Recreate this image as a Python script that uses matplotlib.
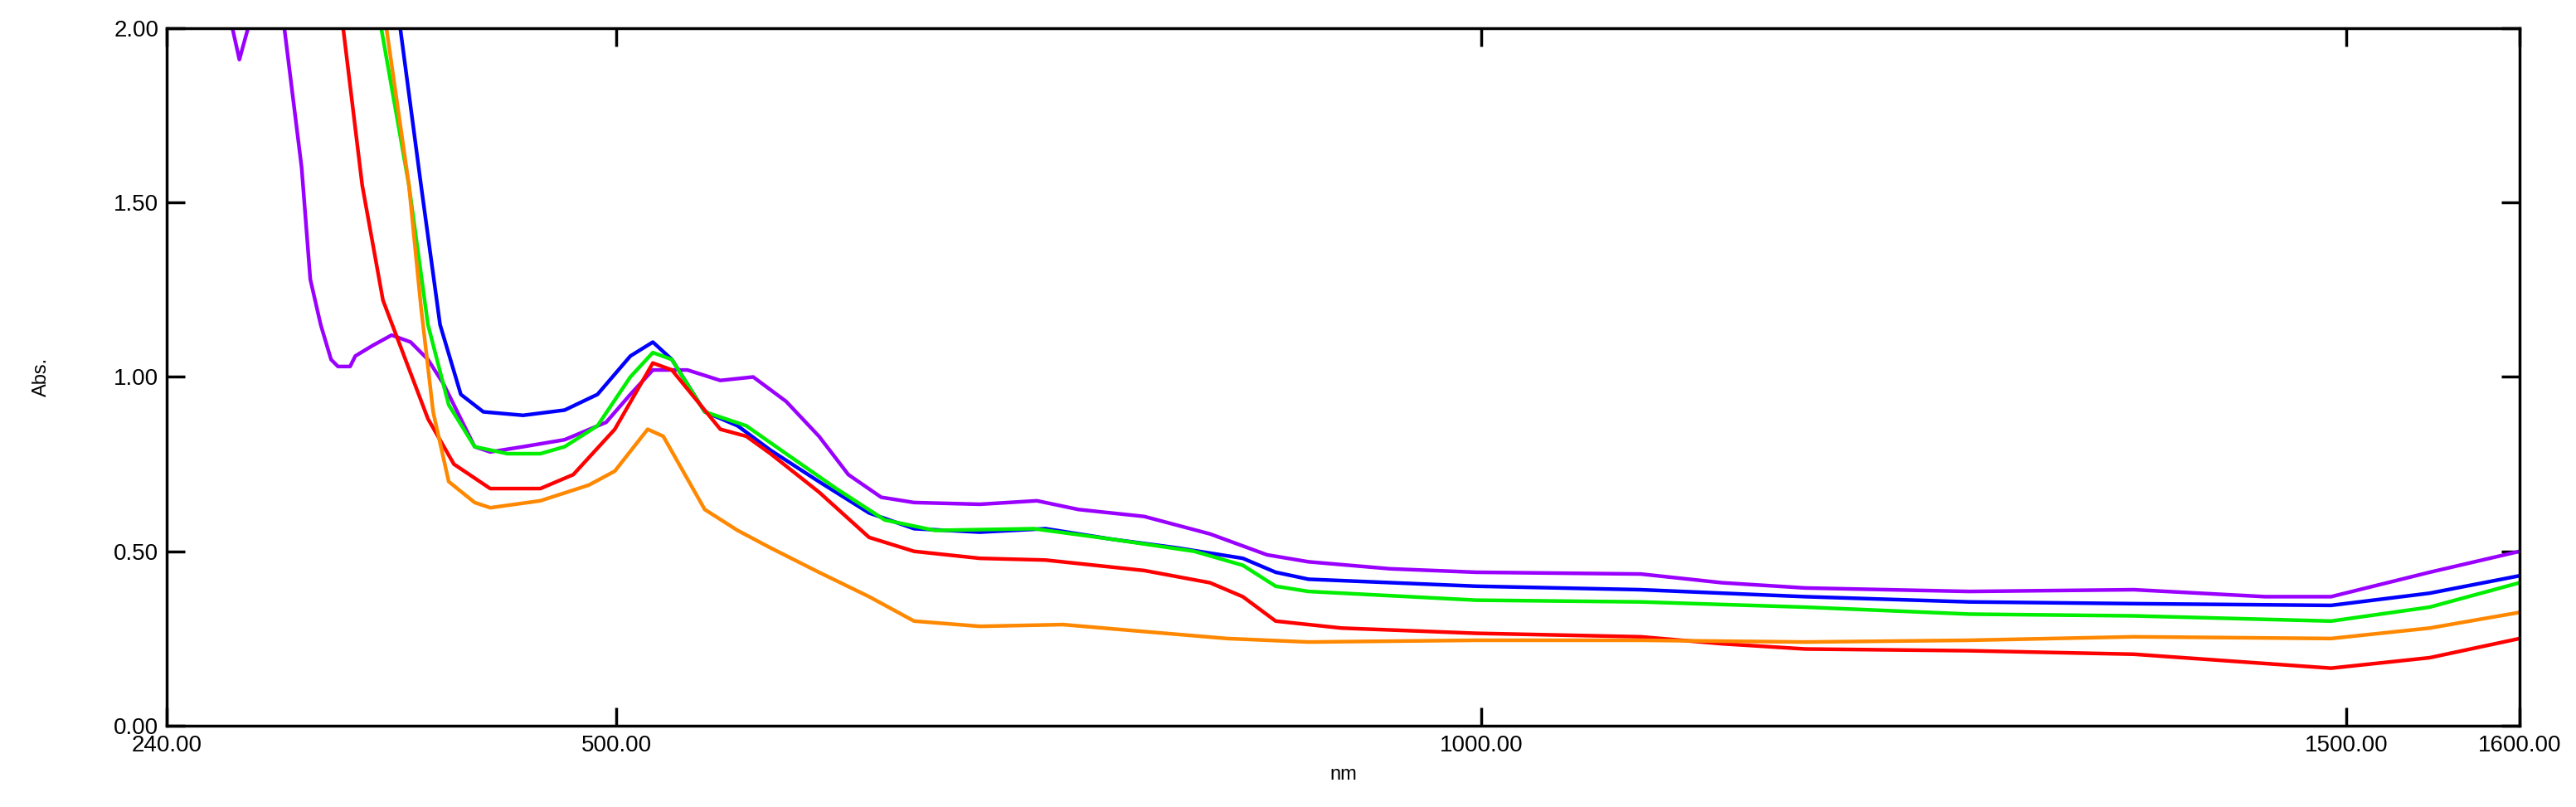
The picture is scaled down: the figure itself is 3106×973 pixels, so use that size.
import matplotlib
matplotlib.use("Agg")
import matplotlib.pyplot as plt
import numpy as np

purple_x = [278,282,287,292,300,308,318,323,329,335,339,346,349,359,370,381,391,400,408,418,427,446,470,494,508,521,541,560,579,598,617,634,653,672,710,743,767,805,843,876,900,947,997,1092,1139,1187,1282,1377,1453,1491,1548,1600]
purple_y = [2.0,1.91,2.0,2.4,2.4,2.0,1.6,1.28,1.15,1.05,1.03,1.03,1.06,1.09,1.12,1.10,1.05,0.98,0.90,0.80,0.785,0.80,0.82,0.87,0.95,1.02,1.02,0.99,1.0,0.93,0.83,0.72,0.655,0.64,0.635,0.645,0.62,0.60,0.55,0.49,0.47,0.45,0.44,0.435,0.41,0.395,0.385,0.39,0.37,0.37,0.44,0.50]
blue_x = [370,375,387,398,410,423,446,470,489,508,521,532,551,570,589,617,646,672,710,748,786,824,862,881,900,997,1092,1187,1282,1377,1491,1548,1600]
blue_y = [2.4,2.0,1.55,1.15,0.95,0.90,0.89,0.905,0.95,1.06,1.10,1.05,0.90,0.86,0.79,0.70,0.61,0.565,0.555,0.565,0.535,0.51,0.48,0.44,0.42,0.40,0.39,0.37,0.355,0.35,0.345,0.38,0.43]
green_x = [359,364,380,391,403,418,437,456,470,489,508,521,532,551,575,598,627,655,684,741,786,834,862,881,900,997,1092,1187,1282,1377,1491,1548,1600]
green_y = [2.4,2.0,1.55,1.15,0.92,0.80,0.78,0.78,0.80,0.86,1.00,1.07,1.05,0.90,0.86,0.78,0.68,0.59,0.56,0.565,0.535,0.50,0.46,0.40,0.385,0.36,0.355,0.34,0.32,0.315,0.30,0.34,0.41]
red_x = [338,342,353,365,378,391,406,427,456,475,499,521,532,560,575,589,617,646,672,710,748,805,843,862,881,919,997,1092,1139,1187,1282,1377,1491,1548,1600]
red_y = [2.4,2.0,1.55,1.22,1.05,0.88,0.75,0.68,0.68,0.72,0.85,1.04,1.02,0.85,0.83,0.78,0.67,0.54,0.50,0.48,0.475,0.445,0.41,0.37,0.30,0.28,0.265,0.255,0.235,0.22,0.215,0.205,0.165,0.195,0.25]
orange_x = [363,367,380,387,394,403,418,427,456,484,499,518,527,551,570,589,617,646,672,710,758,805,853,900,997,1092,1187,1282,1377,1491,1548,1600]
orange_y = [2.4,2.0,1.55,1.20,0.90,0.70,0.64,0.625,0.645,0.69,0.73,0.85,0.83,0.62,0.56,0.51,0.44,0.37,0.30,0.285,0.29,0.27,0.25,0.24,0.245,0.245,0.24,0.245,0.255,0.25,0.28,0.325]

x_ticks = [240, 500, 1000, 1500, 1600]
x_labels = ["240.00", "500.00", "1000.00", "1500.00", "1600.00"]
y_ticks = [0, 0.5, 1.0, 1.5, 2.0]
y_labels = ["0.00", "0.50", "1.00", "1.50", "2.00"]

plt.rcParams['font.family'] = ['Liberation Sans', 'DejaVu Sans']
fig = plt.figure(figsize=(31.06, 9.73), dpi=100)
ax = fig.add_axes([201/3106, 1-875/973, (3038-201)/3106, (875-34)/973])
series = [(purple_x, purple_y, '#9900ff'), (blue_x, blue_y, '#0000ff'),
          (green_x, green_y, '#00ee00'), (red_x, red_y, '#ff0000'),
          (orange_x, orange_y, '#ff8800')]
for xs, ys, c in series:
    ax.plot(xs, ys, color=c, lw=3.2)
ax.set_xlim(240, 1600)
ax.set_ylim(0, 2)
ax.set_xticks(x_ticks)
ax.set_xticklabels(x_labels)
ax.set_yticks(y_ticks)
ax.set_yticklabels(y_labels)
ax.tick_params(direction='in', length=16, width=2.5, top=True, right=True, labelsize=20)
ax.tick_params(axis='x', pad=8)
ax.tick_params(axis='y', pad=7)
for s in ax.spines.values():
    s.set_linewidth(2.5)
ax.set_xlabel("nm", fontsize=17, labelpad=8)
ax.set_ylabel("Abs.", fontsize=17, labelpad=55)
fig.savefig("out.png", dpi=100)
